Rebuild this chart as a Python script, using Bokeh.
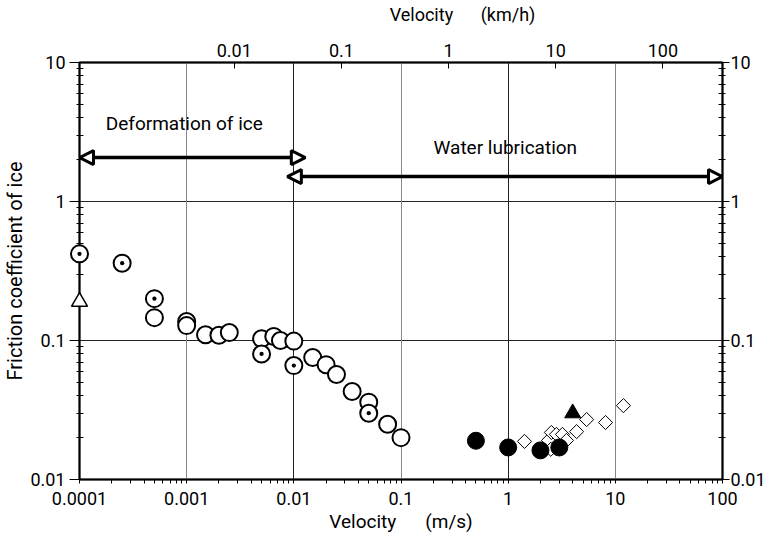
from bokeh.plotting import figure
from bokeh.models import (LogAxis, FixedTicker, Range1d, LogScale,
                          Arrow, NormalHead, Label, Grid)
from bokeh.core.properties import value
from bokeh.embed import file_html
from bokeh.resources import INLINE

FONT = "Roboto"

# ---- data ----
open_v = [0.0005, 0.001, 0.001, 0.0015, 0.002, 0.0025, 0.005, 0.0065, 0.0075, 0.01,
          0.015, 0.02, 0.025, 0.035, 0.05, 0.075, 0.1]
open_f = [0.146, 0.137, 0.128, 0.110, 0.109, 0.114, 0.103, 0.107, 0.100, 0.099,
          0.0755, 0.067, 0.057, 0.043, 0.036, 0.025, 0.020]

dot_v = [0.0001, 0.00025, 0.0005, 0.005, 0.01, 0.05]
dot_f = [0.42, 0.36, 0.20, 0.080, 0.066, 0.030]

otri_v = [0.0001]
otri_f = [0.19]

fill_v = [0.5, 1.0, 2.0, 3.0]
fill_f = [0.019, 0.017, 0.0162, 0.017]

ftri_v = [4.0]
ftri_f = [0.030]

diam_v = [1.42, 2.38, 2.53, 2.82, 3.21, 3.5, 2.5, 4.35, 5.4, 8.1, 11.9]
diam_f = [0.0188, 0.0191, 0.0218, 0.0211, 0.0211, 0.0191, 0.0165, 0.0221, 0.027, 0.0257, 0.034]

x_ticks = [0.0001, 0.001, 0.01, 0.1, 1, 10, 100]
x_labels = ["0.0001", "0.001", "0.01", "0.1", "1", "10", "100"]
y_ticks = [0.01, 0.1, 1, 10]
y_labels = ["0.01", "0.1", "1", "10"]
kmh_ticks = [0.01, 0.1, 1, 10, 100]
kmh_labels = ["0.01", "0.1", "1", "10", "100"]

deform_range = [0.0001, 0.0128]
water_range = [0.0087, 100]
deform_y = 2.07
water_y = 1.51

x_min, x_max = 0.0001, 100
y_min, y_max = 0.01, 10


def minors(decades):
    out = []
    for d in decades[:-1]:
        out += [d * k for k in range(2, 10)]
    return out


p = figure(width=768, height=538, x_axis_type="log", y_axis_type="log",
           x_range=Range1d(x_min, x_max), y_range=Range1d(y_min, y_max),
           output_backend="svg", toolbar_location=None,
           min_border_left=79, min_border_right=46, min_border_top=62, min_border_bottom=59)
p.outline_line_color = "black"
p.outline_line_width = 2
p.background_fill_color = "white"

# bottom axis
xa = p.xaxis[0]
xa.ticker = FixedTicker(ticks=x_ticks, minor_ticks=minors(x_ticks))
xa.major_label_overrides = {t: l for t, l in zip(x_ticks, x_labels)}
xa.axis_label = "Velocity\u2003\u2002(m/s)"

# left axis
ya = p.yaxis[0]
ya.ticker = FixedTicker(ticks=y_ticks, minor_ticks=minors(y_ticks))
ya.major_label_overrides = {t: l for t, l in zip(y_ticks, y_labels)}
ya.axis_label = "Friction coefficient of ice"

# right axis
ra = LogAxis(ticker=FixedTicker(ticks=y_ticks, minor_ticks=minors(y_ticks)),
             major_label_overrides={t: l for t, l in zip(y_ticks, y_labels)})
p.add_layout(ra, "right")

# top axis (km/h)
p.extra_x_ranges = {"kmh": Range1d(x_min * 3.6, x_max * 3.6)}
p.extra_x_scales = {"kmh": LogScale()}
ta = LogAxis(x_range_name="kmh", ticker=FixedTicker(ticks=kmh_ticks),
             major_label_overrides={t: l for t, l in zip(kmh_ticks, kmh_labels)})
p.add_layout(ta, "above")

for ax in [xa, ya, ra, ta]:
    ax.axis_line_color = "black"
    ax.axis_line_width = 1.5
    ax.major_tick_line_color = "black"
    ax.minor_tick_line_color = "black"
    ax.major_label_text_font = FONT
    ax.major_label_text_font_size = "18px"
    ax.axis_label_text_font = FONT
    ax.axis_label_text_font_size = "19px"
    ax.axis_label_text_font_style = "normal"
    ax.major_label_text_color = "black"
    ax.axis_label_text_color = "black"
ya.axis_label_text_font_size = "20px"

ya.major_tick_in = 0
ya.major_tick_out = 10
ya.minor_tick_in = 4
ya.minor_tick_out = 3
ya.major_label_standoff = 4
ya.axis_label_standoff = 0
ra.major_tick_in = 0
ra.major_tick_out = 7
ra.minor_tick_in = 4
ra.minor_tick_out = 3
ra.major_label_standoff = 1
xa.major_tick_in = 0
xa.major_tick_out = 4
xa.minor_tick_in = 0
xa.minor_tick_out = 4
xa.major_label_standoff = 8
xa.axis_label_standoff = 2
ta.major_tick_in = 6
ta.major_tick_out = 0
ta.minor_tick_line_color = None
ta.major_label_standoff = 6

# top axis title (km/h), drawn above the frame
top_title_x = [0.375]
top_title_y = [22.1]
p.text(x=top_title_x, y=top_title_y, text=["Velocity\u2003\u2002(km/h)"],
       text_align="center", text_baseline="middle", text_font=value(FONT),
       text_font_size=value("18px"), text_color="black", level="overlay")

# grids
p.xgrid.grid_line_color = None
p.ygrid.ticker = FixedTicker(ticks=y_ticks)
p.ygrid.grid_line_color = "#222222"
p.ygrid.grid_line_width = 1
p.add_layout(Grid(dimension=0, ticker=FixedTicker(ticks=[0.001, 0.1, 10]),
                  grid_line_color="#888888", grid_line_width=1))
p.add_layout(Grid(dimension=0, ticker=FixedTicker(ticks=[0.01, 1]),
                  grid_line_color="#222222", grid_line_width=1))

# markers
p.scatter(diam_v, diam_f, marker="square", angle=0.785398, size=10, fill_color="white",
          line_color="black", line_width=1)
p.scatter(open_v, open_f, marker="circle", size=17, fill_color="white",
          line_color="black", line_width=2)
r_dot = p.scatter(dot_v, dot_f, marker="circle_dot", size=17, fill_color="white",
                  line_color="black", line_width=2)
r_tri = p.scatter(otri_v, otri_f, marker="triangle", size=16, fill_color="white",
                  line_color="black", line_width=1.5)
p.scatter(fill_v, fill_f, marker="circle", size=17, fill_color="black",
          line_color="black")
p.scatter(ftri_v, ftri_f, marker="triangle", size=16, fill_color="black",
          line_color="black")
r_dot.level = "overlay"
r_tri.level = "overlay"

# arrows
for (x0, x1), yv in [(deform_range, deform_y), (water_range, water_y)]:
    p.add_layout(Arrow(x_start=x0, x_end=x1, y_start=yv, y_end=yv,
                       line_width=3.5, line_color="black",
                       start=NormalHead(size=14, fill_color="white", line_width=3, line_color="black"),
                       end=NormalHead(size=14, fill_color="white", line_width=3, line_color="black")))

p.add_layout(Label(x=0.00095, y=3.64, text="Deformation of ice", text_align="center",
                   text_baseline="middle", text_font=FONT, text_font_size="19px",
                   text_color="black"))
p.add_layout(Label(x=0.94, y=2.44, text="Water lubrication", text_align="center",
                   text_baseline="middle", text_font=FONT, text_font_size="19px",
                   text_color="black"))

open("out.html", "w").write(file_html(p, INLINE))
